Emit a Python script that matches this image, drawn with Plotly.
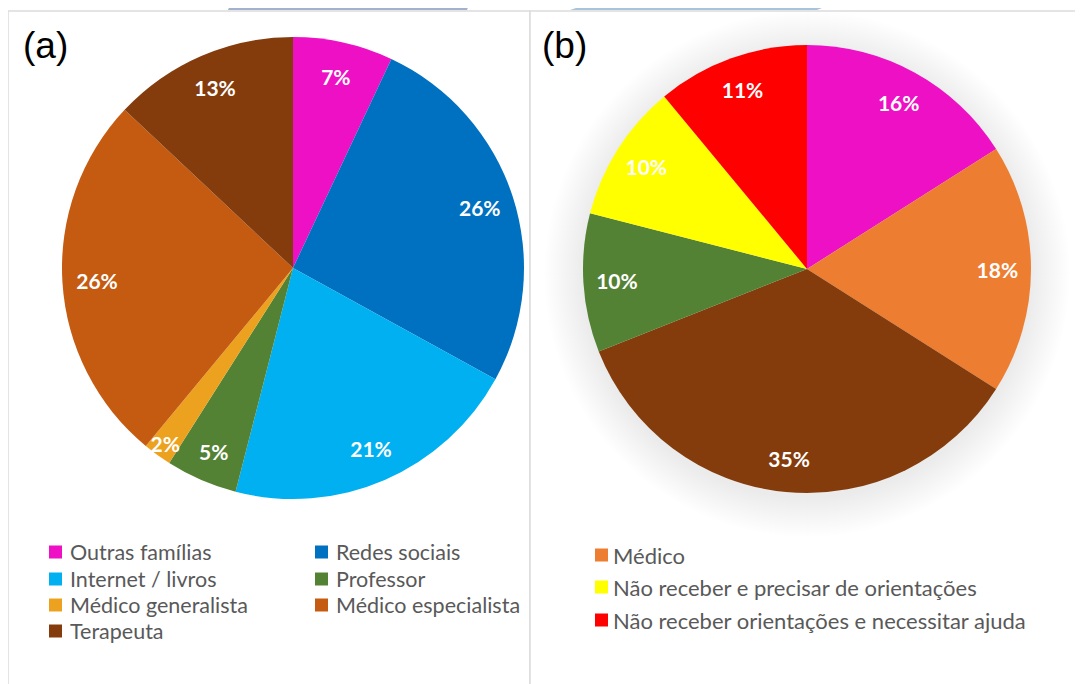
import plotly.graph_objects as go

# page body has an 8px margin: figure is sized to fit the window exactly
OX, OY = 8, 8
W, H = 1083 - OX, 684 - OY

# ---------------- data ----------------
labels_a = ["Outras famílias", "Redes sociais", "Internet / livros", "Professor",
            "Médico generalista", "Médico especialista", "Terapeuta"]
values_a = [7, 26, 21, 5, 2, 26, 13]
colors_a = ["#EE10C4", "#0070C0", "#00B0F0", "#548235", "#ECA21F", "#C55A11", "#843C0C"]

labels_b = ["Outras famílias", "Médico", "Terapeuta", "Professor",
            "Não receber e precisar de orientações",
            "Não receber orientações e necessitar ajuda"]
values_b = [16, 18, 35, 10, 10, 11]
colors_b = ["#EE10C4", "#ED7D31", "#843C0C", "#548235", "#FFFF00", "#FF0000"]
legend_b_items = [1, 4, 5]  # entries visible in the (b) legend

FONT_TXT = "Lato"


def px(x):
    return (x - OX) / W


def py(y):
    return 1 - (y - OY) / H


def dom(cx, cy, r):
    return dict(x=[px(cx - r), px(cx + r)], y=[py(cy + r), py(cy - r)])


dom_a = dom(293, 268, 231)
dom_b = dom(807, 269, 224)

fig = go.Figure()

for labels, values, colors, d in [(labels_a, values_a, colors_a, dom_a),
                                   (labels_b, values_b, colors_b, dom_b)]:
    fig.add_trace(go.Pie(
        labels=labels, values=values, sort=False, direction="clockwise", rotation=0,
        marker=dict(colors=colors, line=dict(width=0)),
        textinfo="none", showlegend=False, domain=d, hoverinfo="label+percent"))
    # transparent ring used only to place the percentage labels near the rim
    fig.add_trace(go.Pie(
        labels=labels, values=values, sort=False, direction="clockwise", rotation=0,
        hole=0.7,
        marker=dict(colors=["rgba(0,0,0,0)"] * len(values), line=dict(width=0)),
        texttemplate="%{value}%", textposition="inside",
        insidetextorientation="horizontal",
        textfont=dict(family=FONT_TXT, size=21, color="white", weight="bold"),
        showlegend=False, domain=d, hoverinfo="skip"))

shapes = []
# watermark parallelograms at the top
shapes.append(dict(type="path", xref="paper", yref="paper",
                   path=f"M {px(232)} {py(0)} L {px(471)} {py(0)} L {px(467)} {py(10)} L {px(228)} {py(10)} Z",
                   fillcolor="#A3B1CF", line=dict(width=0), layer="below"))
shapes.append(dict(type="path", xref="paper", yref="paper",
                   path=f"M {px(600)} {py(0)} L {px(842)} {py(0)} L {px(817)} {py(10)} L {px(570)} {py(10)} Z",
                   fillcolor="#A8C4DA", line=dict(width=0), layer="below"))
# panel borders
shapes.append(dict(type="rect", xref="paper", yref="paper",
                   x0=px(8), x1=px(530), y0=py(700), y1=py(11),
                   line=dict(color="#DCDCDC", width=1.5), fillcolor="white", layer="below"))
shapes.append(dict(type="rect", xref="paper", yref="paper",
                   x0=px(530), x1=px(1100), y0=py(700), y1=py(11),
                   line=dict(color="#DCDCDC", width=1.5), fillcolor="white", layer="below"))
# soft shadow behind pie (b)
for i in range(20):
    rr = 224 + 1 + i * 2
    cy = 274
    shapes.append(dict(type="circle", xref="paper", yref="paper",
                       x0=px(807 - rr), x1=px(807 + rr), y0=py(cy + rr), y1=py(cy - rr),
                       fillcolor="rgba(0,0,0,0.0035)", line=dict(width=0), layer="below"))

annotations = []
annotations.append(dict(text="(a)", x=px(21), y=py(45), xref="paper", yref="paper",
                        xanchor="left", yanchor="middle", showarrow=False,
                        font=dict(family="Liberation Sans", size=37, color="black")))
annotations.append(dict(text="(b)", x=px(540), y=py(45), xref="paper", yref="paper",
                        xanchor="left", yanchor="middle", showarrow=False,
                        font=dict(family="Liberation Sans", size=37, color="black")))

# legend (a): two columns
col_x = [49, 315]
row_y = [552, 579, 605, 631]
for i, (lab, col) in enumerate(zip(labels_a, colors_a)):
    cx = col_x[i % 2]
    cy = row_y[i // 2]
    shapes.append(dict(type="rect", xref="paper", yref="paper",
                       x0=px(cx), x1=px(cx + 13), y0=py(cy + 6.5), y1=py(cy - 6.5),
                       fillcolor=col, line=dict(width=0)))
    annotations.append(dict(text=lab, x=px(cx + 19), y=py(cy), xref="paper", yref="paper",
                            xanchor="left", yanchor="middle", showarrow=False,
                            font=dict(family=FONT_TXT, size=21.5, color="#595959")))

# legend (b)
rows_b = [555, 587, 620]
for k, idx in enumerate(legend_b_items):
    cy = rows_b[k]
    shapes.append(dict(type="rect", xref="paper", yref="paper",
                       x0=px(595), x1=px(608), y0=py(cy + 6.5), y1=py(cy - 6.5),
                       fillcolor=colors_b[idx], line=dict(width=0)))
    annotations.append(dict(text=labels_b[idx], x=px(611), y=py(cy), xref="paper", yref="paper",
                            xanchor="left", yanchor="middle", showarrow=False,
                            font=dict(family=FONT_TXT, size=22, color="#595959")))

fig.update_layout(
    width=W, height=H, margin=dict(l=0, r=0, t=0, b=0),
    paper_bgcolor="white", plot_bgcolor="white",
    shapes=shapes, annotations=annotations,
    uniformtext=dict(minsize=21, mode="show"),
    showlegend=False,
)

fig.write_html("out.html")
